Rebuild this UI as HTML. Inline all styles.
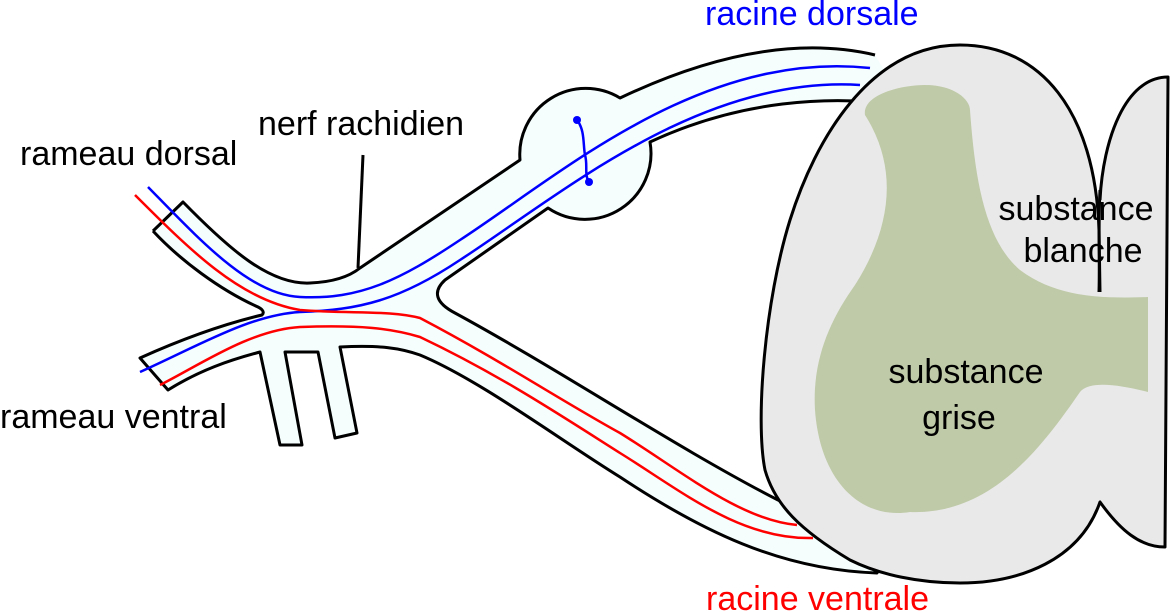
<!DOCTYPE html>
<html><head><style>html,body{margin:0;padding:0;background:#fff}svg{display:block}text{font-family:"Liberation Sans",sans-serif;font-size:34px}</style></head><body>
<svg width="1170" height="612" viewBox="0 0 1170 612" xmlns="http://www.w3.org/2000/svg">
<path d="M153,231 L183,202 C230,250 270,285 310,283 C335,282 350,276 360,268 L520,160 A66,66 0 0 1 620,98 C700,60 790,35 875,55 L890,80 L900,105 C830,95 740,100 650,142 A66,66 0 0 1 548,208 L445,280 C432,292 436,303 455,313 C560,370 680,450 778,500 L850,540 L877,573 C780,570 700,530 620,477 C560,440 480,380 420,355 C400,348 380,345 340,347 L357,433 L335,438 L318,352 L285,352 L302,445 L280,445 L260,352 C230,360 200,370 168,390 L140,358 C180,340 220,325 262,315 C265,312 262,309 258,307 C220,290 180,260 153,231 Z" fill="#f5fdfd"/>
<path d="M153,231 L183,202 C230,250 270,285 310,283 C335,282 350,276 360,268 L520,160 A66,66 0 0 1 620,98 C700,60 790,35 875,55 M900,105 C830,95 740,100 650,142 A66,66 0 0 1 548,208 L445,280 C432,292 436,303 455,313 C560,370 680,450 778,500 L850,540 L877,573 C780,570 700,530 620,477 C560,440 480,380 420,355 C400,348 380,345 340,347 L357,433 L335,438 L318,352 L285,352 L302,445 L280,445 L260,352 C230,360 200,370 168,390 L140,358 C180,340 220,325 262,315 C265,312 262,309 258,307 C220,290 180,260 153,231" fill="none" stroke="#000" stroke-width="3" stroke-linejoin="round"/>
<path d="M363,155 L358,268" stroke="#000" stroke-width="3"/>
<g fill="none" stroke-width="2.5">
<path d="M148,187 C200,240 250,295 300,297 C360,300 400,280 460,240 C560,175 700,50 870,68" stroke="#00f"/>
<path d="M140,372 C200,345 250,315 300,312 C360,310 400,300 460,260 C560,195 700,75 860,85" stroke="#00f"/>
<path d="M135,195 C190,250 240,300 300,310 C350,314 390,310 420,318 C500,360 560,400 620,433 C680,470 740,520 797,525" stroke="#f00"/>
<path d="M160,385 C200,365 250,330 300,327 C360,325 390,328 420,337 C500,375 560,415 620,453 C680,490 740,540 813,538" stroke="#f00"/>
<path d="M577,120 C585,130 583,145 585,155 C588,165 584,175 589,182" stroke="#00f"/>
</g>
<circle cx="577" cy="120" r="4" fill="#00f"/><circle cx="589" cy="182" r="4" fill="#00f"/>
<path d="M1095,230 C1100,150 1120,77 1168,77 L1165,547 C1140,547 1120,530 1100,502 L1090,502 Z" fill="#e9e9e9"/>
<path d="M960,45 C1040,45 1095,110 1099,230 L1100,292 L1100,502 C1080,560 1020,583 960,583 C920,583 880,575 850,560 C800,530 775,505 765,470 C755,420 765,300 790,220 C815,140 870,45 960,45 Z" fill="#e9e9e9"/>
<path d="M1100,200 C1103,140 1125,77 1168,77 L1165,547 C1140,547 1120,530 1100,502 C1080,560 1020,583 960,583 C920,583 880,575 850,560 C800,530 775,505 765,470 C755,420 765,300 790,220 C815,140 870,45 960,45 C1040,45 1095,110 1099,230 L1100,292" fill="none" stroke="#000" stroke-width="3" stroke-linejoin="round"/>
<path d="M865,115 C862,95 900,85 925,85 C955,85 970,100 970,110 C975,180 985,240 1020,270 C1060,300 1110,298 1148,297 L1148,392 C1120,385 1090,380 1080,392 C1040,450 990,515 910,512 C860,520 820,480 815,410 C812,360 830,320 855,285 C890,230 900,170 865,115 Z" fill="#bfcaa8"/>
<path d="M1100,190 C1098,230 1100,260 1099,292" fill="none" stroke="#000" stroke-width="3"/>
<text x="705" y="25" fill="#00f">racine dorsale</text>
<text x="258" y="135">nerf rachidien</text>
<text x="20" y="165">rameau dorsal</text>
<text x="0" y="428">rameau ventral</text>
<text x="706" y="610" fill="#f00">racine ventrale</text>
<text x="1076" y="220" text-anchor="middle">substance</text>
<text x="1083" y="262" text-anchor="middle">blanche</text>
<text x="966" y="383" text-anchor="middle">substance</text>
<text x="959" y="429" text-anchor="middle">grise</text>
</svg>
</body></html>
